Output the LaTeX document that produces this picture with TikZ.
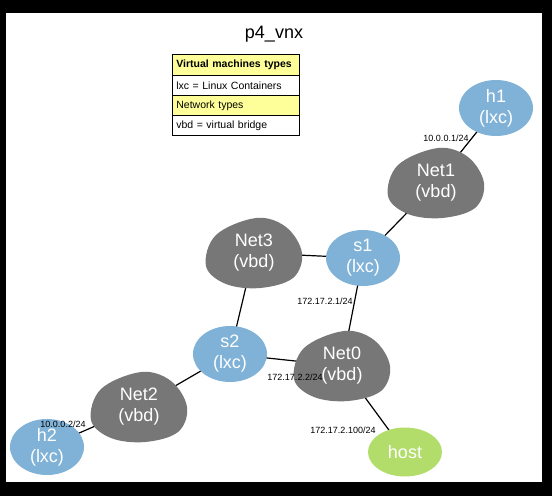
\documentclass[tikz,border=0pt]{standalone}
\usepackage{fontspec}
\setmainfont{Liberation Sans}
\usetikzlibrary{shapes.geometric}

\pgfdeclarelayer{canvas}
\pgfdeclarelayer{links}
\pgfsetlayers{canvas,links,main}

\definecolor{lxcblue}{HTML}{7FB2D6}
\definecolor{vbdgray}{HTML}{777777}
\definecolor{hostgreen}{HTML}{B3DD6B}
\definecolor{legendyellow}{HTML}{FFFF99}

\tikzset{
  nodefont/.style={font=\fontsize{18}{21}\selectfont},
  vm/.style={ellipse, fill=lxcblue, minimum width=74pt, minimum height=56pt,
    inner sep=0pt, text=white, align=center, nodefont},
  hostnode/.style={vm, fill=hostgreen, minimum height=49pt},
  net/.style={ellipse, minimum width=96pt, minimum height=70pt,
    inner sep=0pt, text=white, align=center, nodefont},
  netblob/.pic={
    \fill[vbdgray] plot[smooth cycle, tension=0.6] coordinates {
      (2,-35) (32,-26) (48,0) (39,25) (6,35)
      (-28,31) (-48,13) (-38,-18)};
  },
  link/.style={draw=black, line width=1.2pt},
  addr/.style={font=\fontsize{9}{10}\selectfont, inner sep=0pt},
  legendrow/.style={draw=black, line width=0.8pt, anchor=north west,
    minimum width=127pt, minimum height=20pt, text width=119pt,
    inner xsep=4pt, inner ysep=0pt, align=left,
    font=\fontsize{10.5}{12}\selectfont},
  legendhead/.style={legendrow, fill=legendyellow},
  legendbody/.style={legendrow, fill=white},
}

\begin{document}
\begin{tikzpicture}[x=1pt, y=-1pt]
  % page frame
  \begin{pgfonlayer}{canvas}
    \fill[black] (0,0) rectangle (552,496);
    \fill[white] (6,13) rectangle (542,482);
  \end{pgfonlayer}
  \useasboundingbox (0,0) rectangle (552,496);

  % title
  \node[font=\fontsize{18}{21}\selectfont] (title) at (274,34) {p4\_vnx};

  % legend
  \node[legendhead, minimum height=21pt] (leg1) at (172,54) {\textbf{Virtual machines types}};
  \node[legendbody] (leg2) at (172,75) {lxc = Linux Containers};
  \node[legendhead] (leg3) at (172,95) {Network types};
  \node[legendbody] (leg4) at (172,115) {vbd = virtual bridge};

  % virtual bridges
  \pic at (436,183) {netblob};
  \node[net] (net1) at (436,183) {Net1\\(vbd)};
  \pic at (254,253) {netblob};
  \node[net] (net3) at (254,253) {Net3\\(vbd)};
  \pic at (342,366) {netblob};
  \node[net] (net0) at (342,366) {Net0\\(vbd)};
  \pic at (139,407) {netblob};
  \node[net] (net2) at (139,407) {Net2\\(vbd)};

  % containers and host
  \node[vm] (h1) at (496,108) {h1\\(lxc)};
  \node[vm] (s1) at (363,258) {s1\\(lxc)};
  \node[vm] (s2) at (230,354) {s2\\(lxc)};
  \node[vm] (h2) at (47,447) {h2\\(lxc)};
  \node[hostnode] (host) at (405,452) {host};

  % links
  \begin{pgfonlayer}{links}
    \draw[link] (h1.center) -- (net1.center);
    \draw[link] (net1.center) -- (s1.center);
    \draw[link] (s1.center) -- (net3.center);
    \draw[link] (s1.center) -- (net0.center);
    \draw[link] (net3.center) -- (s2.center);
    \draw[link] (s2.center) -- (net0.center);
    \draw[link] (s2.center) -- (net2.center);
    \draw[link] (net2.center) -- (h2.center);
    \draw[link] (net0.center) -- (host.center);
  \end{pgfonlayer}

  % interface addresses
  \node[addr] (a1) at (446,138) {10.0.0.1/24};
  \node[addr] (a2) at (325,301) {172.17.2.1/24};
  \node[addr] (a3) at (295,377) {172.17.2.2/24};
  \node[addr] (a4) at (63,424) {10.0.0.2/24};
  \node[addr] (a5) at (343,430) {172.17.2.100/24};
\end{tikzpicture}
\end{document}
